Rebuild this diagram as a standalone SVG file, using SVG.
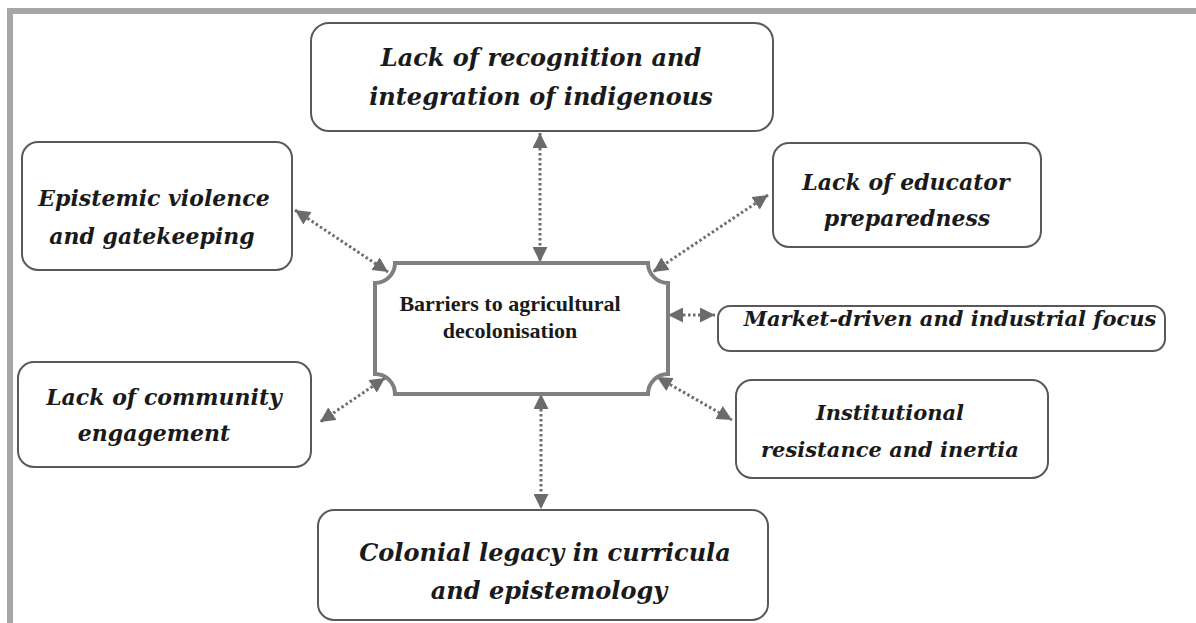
<svg xmlns="http://www.w3.org/2000/svg" width="1196" height="623" viewBox="0 0 1196 623">
<style>
.box{fill:#fff;stroke:#595959;stroke-width:2}
.hub{fill:#fff;stroke:#7f7f7f;stroke-width:4}
.lbl{font-family:"DejaVu Serif","Liberation Serif",serif;font-weight:bold;font-style:italic;font-size:22px;fill:#1a1a1a;text-anchor:middle}
.big{font-size:24px}
.sm{font-size:21px}
.hubt{font-family:"Liberation Serif",serif;font-weight:bold;font-size:22px;fill:#1a1a1a;text-anchor:middle}
.con{fill:none;stroke:#6e6e6e;stroke-width:3;stroke-dasharray:2.5 2.5;marker-start:url(#ah);marker-end:url(#ah)}
</style>
<defs>
<marker id="ah" viewBox="0 0 10 10" refX="10" refY="5" markerWidth="15" markerHeight="15" markerUnits="userSpaceOnUse" orient="auto-start-reverse">
<path d="M0,0 L10,5 L0,10 Z" fill="#6b6b6b"/>
</marker>
</defs>
<rect width="1196" height="623" fill="#fff"/>
<path d="M10,623 V11 H1196" fill="none" stroke="#a6a6a6" stroke-width="6"/>
<g id="connectors">
<line class="con" x1="540" y1="133" x2="540" y2="262"/>
<line class="con" x1="295" y1="210" x2="388" y2="272"/>
<line class="con" x1="768" y1="195" x2="653" y2="272"/>
<line class="con" x1="668" y1="315" x2="715" y2="315"/>
<line class="con" x1="657" y1="377" x2="732" y2="420"/>
<line class="con" x1="385" y1="378" x2="320" y2="422"/>
<line class="con" x1="541" y1="394" x2="541" y2="509"/>
</g>
<g id="hub">
<path class="hub" d="M395,263 H648 A20,20 0 0 0 668,283 V374 A20,20 0 0 0 648,394 H395 A20,20 0 0 0 375,374 V283 A20,20 0 0 0 395,263 Z"/>
<text class="hubt" x="510" y="311">Barriers to agricultural</text>
<text class="hubt" x="510" y="338">decolonisation</text>
</g>
<g id="n-recognition">
<rect class="box" x="311" y="23" width="462" height="108" rx="18"/>
<text class="lbl big" x="541" y="66">Lack of recognition and</text>
<text class="lbl big" x="541" y="105">integration of indigenous</text>
</g>
<g id="n-epistemic">
<rect class="box" x="22" y="142" width="270" height="128" rx="16"/>
<text class="lbl" x="154" y="206">Epistemic violence</text>
<text class="lbl" x="152" y="244">and gatekeeping</text>
</g>
<g id="n-educator">
<rect class="box" x="773" y="143" width="268" height="104" rx="16"/>
<text class="lbl" x="906" y="190">Lack of educator</text>
<text class="lbl" x="907" y="226">preparedness</text>
</g>
<g id="n-market">
<rect class="box" x="718" y="306" width="447" height="45" rx="12"/>
<text class="lbl sm" x="950" y="326">Market-driven and industrial focus</text>
</g>
<g id="n-institutional">
<rect class="box" x="736" y="380" width="312" height="98" rx="16"/>
<text class="lbl sm" x="890" y="420">Institutional</text>
<text class="lbl sm" x="890" y="457">resistance and inertia</text>
</g>
<g id="n-community">
<rect class="box" x="18" y="362" width="293" height="105" rx="16"/>
<text class="lbl" x="164" y="405">Lack of community</text>
<text class="lbl" x="154" y="441">engagement</text>
</g>
<g id="n-colonial">
<rect class="box" x="318" y="510" width="450" height="110" rx="16"/>
<text class="lbl big" x="545" y="561">Colonial legacy in curricula</text>
<text class="lbl big" x="549" y="599">and epistemology</text>
</g>
</svg>
